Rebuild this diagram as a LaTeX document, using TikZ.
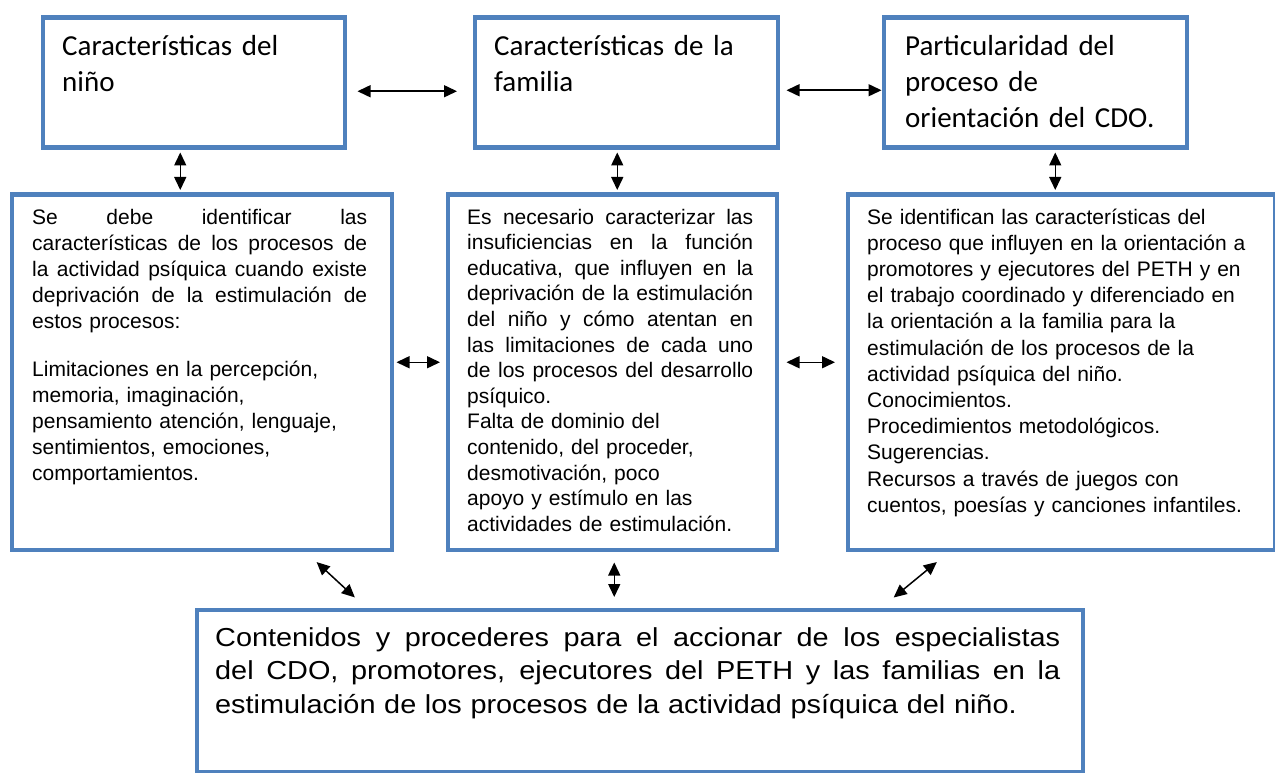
\documentclass[tikz,border=0pt]{standalone}
\usepackage{fontspec}
\setmainfont{Liberation Sans}
\newfontfamily\calib{Carlito}
\newfontfamily\widearial[FakeStretch=1.11]{Liberation Sans}
\usetikzlibrary{arrows.meta}
\definecolor{boxblue}{HTML}{4F81BD}
\tikzset{
  box/.style={draw=boxblue, line width=4.5pt, anchor=north west, inner sep=0pt},
  arr/.style={{Triangle[length=13pt,width=12pt]}-{Triangle[length=13pt,width=12pt]}, line width=1.5pt, black},
  txt/.style={anchor=north west, inner sep=0pt, align=left, text width=#1},
  toptext/.style={font=\calib\fontsize{29pt}{36pt}\selectfont},
  midtext/.style={font=\fontsize{21pt}{26pt}\selectfont},
}
\newcommand\jl[2]{\leavevmode\hbox to #1{\spaceskip=0.25em plus 1fil\relax #2}}
\begin{document}
\begin{tikzpicture}[x=1pt,y=-1pt]
\useasboundingbox[fill=white] (0,0) rectangle (1275,773);
% boxes
\node[box, minimum width=302pt, minimum height=130pt] (b1) at (40.5,15.5) {};
\node[box, minimum width=303pt, minimum height=130pt] (b2) at (472.5,15.5) {};
\node[box, minimum width=303pt, minimum height=130pt] (b3) at (881.5,15.5) {};
\node[box, minimum width=380pt, minimum height=355pt] (b4) at (9.5,192.5) {};
\node[box, minimum width=329pt, minimum height=355pt] (b5) at (445.5,192.5) {};
\node[box, minimum width=427pt, minimum height=355pt] (b6) at (845.5,192.5) {};
\node[box, minimum width=886pt, minimum height=162pt] (b7) at (194.5,607.5) {};
% texts
\node[txt=290pt, toptext] (t1) at (62,35) {\rule{0pt}{20pt}Características del\\niño};
\node[txt=280pt, toptext] (t2) at (494,35) {\rule{0pt}{20pt}Características de la\\familia};
\node[txt=280pt, toptext] (t3) at (905,35) {\rule{0pt}{20pt}Particularidad del\\proceso de\\orientación del CDO.};
\node[txt=345pt, midtext] (t4) at (32,204) {\rule{0pt}{20pt}\jl{335pt}{Se debe identificar las}\\
\jl{335pt}{características de los procesos de}\\
\jl{335pt}{la actividad psíquica cuando existe}\\
\jl{335pt}{deprivación de la estimulación de}\\
estos procesos:\\[22pt]
Limitaciones en la percepción,\\
memoria, imaginación,\\
pensamiento atención, lenguaje,\\
sentimientos, emociones,\\
comportamientos.};
\node[txt=300pt, font=\fontsize{21pt}{25.6pt}\selectfont] (t5) at (467,204) {\rule{0pt}{20pt}\jl{286pt}{Es necesario caracterizar las}\\
\jl{286pt}{insuficiencias en la función}\\
\jl{286pt}{educativa, que influyen en la}\\
\jl{286pt}{deprivación de la estimulación}\\
\jl{286pt}{del niño y cómo atentan en}\\
\jl{286pt}{las limitaciones de cada uno}\\
\jl{286pt}{de los procesos del desarrollo}\\
psíquico.\\
Falta de dominio del\\
contenido, del proceder,\\
desmotivación, poco\\
apoyo y estímulo en las\\
actividades de estimulación.};
\node[txt=400pt, font=\fontsize{21pt}{26.2pt}\selectfont] (t6) at (867,204) {\rule{0pt}{20pt}Se identifican las características del\\
proceso que influyen en la orientación a\\
promotores y ejecutores del PETH y en\\
el trabajo coordinado y diferenciado en\\
la orientación a la familia para la\\
estimulación de los procesos de la\\
actividad psíquica del niño.\\
Conocimientos.\\
Procedimientos metodológicos.\\
Sugerencias.\\
Recursos a través de juegos con\\
cuentos, poesías y canciones infantiles.};
\node[txt=860pt, font=\widearial\fontsize{26pt}{33.5pt}\selectfont] (t7) at (215,622) {\rule{0pt}{24pt}\jl{845pt}{Contenidos y procederes para el accionar de los especialistas}\\
\jl{845pt}{del CDO, promotores, ejecutores del PETH y las familias en la}\\
estimulación de los procesos de la actividad psíquica del niño.};
% connectors
\draw[arr, shorten <=10.5pt, shorten >=15.5pt] ([yshift=-8.5pt]b1.east) -- ([yshift=-8.5pt]b2.west);
\draw[arr, shorten <=6.5pt, shorten >=0pt] ([yshift=-7.5pt]b2.east) -- ([yshift=-7.5pt]b3.west);
\draw[arr, shorten <=2.5pt, shorten >=2.5pt] ([xshift=-13.5pt]b1.south) -- ([xshift=-13.5pt]b1.south |- b4.north);
\draw[arr, shorten <=2.5pt, shorten >=2.5pt] ([xshift=-9pt]b2.south) -- ([xshift=-9pt]b2.south |- b5.north);
\draw[arr, shorten <=2.5pt, shorten >=2.5pt] ([xshift=20pt]b3.south) -- ([xshift=20pt]b3.south |- b6.north);
\draw[arr, shorten <=2.5pt, shorten >=5.5pt] ([yshift=10pt]b4.east) -- ([yshift=10pt]b5.west);
\draw[arr, shorten <=7.5pt, shorten >=10.5pt] ([yshift=10pt]b5.east) -- ([yshift=10pt]b6.west);
\draw[arr, shorten <=14.85pt, shorten >=14.85pt] ([xshift=104pt]b4.south) -- ([xshift=-274pt]b7.north);
\draw[arr, shorten <=10.5pt, shorten >=10.5pt] ([xshift=2pt]b5.south) -- ([xshift=2pt]b5.south |- b7.north);
\draw[arr, shorten <=15.8pt, shorten >=15.8pt] ([xshift=-112.2pt]b6.south) -- ([xshift=241.7pt]b7.north);
\end{tikzpicture}
\end{document}
